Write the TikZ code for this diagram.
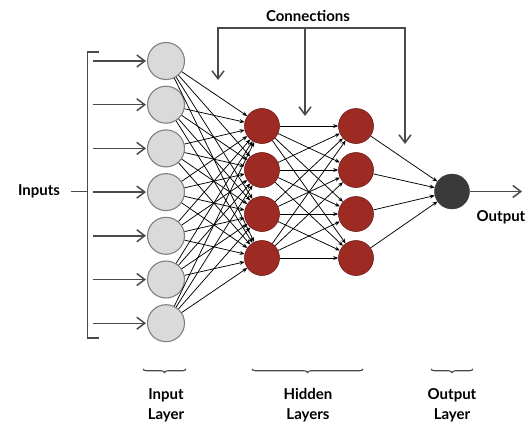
\documentclass[tikz,border=0pt]{standalone}
\usepackage{fontspec}
\setmainfont{Lato}
\usetikzlibrary{positioning, arrows.meta, decorations.pathreplacing}
\definecolor{nngray}{HTML}{DADADA}
\definecolor{nnrim}{HTML}{808080}
\definecolor{nnred}{HTML}{9E2A24}
\definecolor{nnredrim}{HTML}{6E1812}
\definecolor{nndark}{HTML}{3A3A3A}
\definecolor{nnline}{HTML}{4A4A4A}

\begin{document}
\begin{tikzpicture}[
  x=1pt, y=1pt,
  font=\fontsize{15}{20}\selectfont\bfseries,
  >={Straight Barb[length=8pt,width=12pt,line width=1.5pt]},
  inp/.style={circle, draw=nnrim, fill=nngray, line width=1.1pt,
    minimum size=37pt, inner sep=0pt},
  hid/.style={circle, draw=nnredrim, fill=nnred, line width=0.6pt,
    minimum size=35pt, inner sep=0pt},
  outn/.style={circle, draw=nndark, fill=nndark, minimum size=35pt, inner sep=0pt},
  wire/.style={-{Stealth[length=5pt,width=4pt]}, draw=black, line width=0.75pt},
  feed/.style={->, draw=nnline, line width=1.4pt},
  rail/.style={draw=nnline, line width=1.3pt},
  grp/.style={decorate, decoration={brace, mirror, amplitude=3.5pt},
    draw=nnline, line width=1.1pt},
]
\useasboundingbox (0,0) rectangle (532,-423);

% Input layer, fed from the left
\foreach \i in {1,...,7} {
  \node[inp] (in-\i) at (166, {-17.3-43.7*\i}) {};
  \coordinate (src-\i) at (93, {-17.3-43.7*\i});
  \coordinate (dst-\i) at (146, {-17.3-43.7*\i});
}
\foreach \i in {1,...,7}
  \draw[feed] (src-\i) -- (dst-\i);

% Hidden layers
\foreach \j in {1,...,4} {
  \node[hid] (ha-\j) at (262, {-82-44*\j}) {};
  \node[hid] (hb-\j) at (356, {-82-44*\j}) {};
}

% Output neuron
\node[outn] (out) at (452,-191.5) {};

% Fully connected weights
\foreach \i in {1,...,7}
  \foreach \j in {1,...,4}
    \draw[wire] (in-\i) -- (ha-\j);
\foreach \i in {1,...,4}
  \foreach \j in {1,...,4}
    \draw[wire] (ha-\i) -- (hb-\j);
\foreach \i in {1,...,4}
  \draw[wire] (hb-\i) -- (out);

% Inputs bracket
\node[outer sep=8pt] (inputs) at (39,-191.5) {Inputs};
\coordinate (brk-top) at (99,-52);
\coordinate (brk-bot) at (99,-338);
\coordinate (brk-mid) at (87.5,-191.5);
\draw[rail] (brk-top) -- ++(-11.5,0) |- (brk-bot);
\draw[rail] (inputs) -- (brk-mid);

% Output arrow
\coordinate (sink) at (522,-191.5);
\draw[feed] (out) -- (sink);
\node (outlab) at (501,-217) {Output};

% Connections feeding the layers
\node (conn) at (308,-16) {Connections};
\coordinate (c-left)  at (218,-80);
\coordinate (c-mid)   at (305,-116);
\coordinate (c-right) at (405,-144);
\coordinate (bar-r)   at (405,-28);
\draw[rail, <->] (c-left) |- (bar-r) -- (c-right);
\draw[feed] (c-mid |- bar-r) -- (c-mid);

% Layer braces
\coordinate (ib-l) at (143,-369);  \coordinate (ib-r) at (186,-369);
\coordinate (hb-l) at (252,-369);  \coordinate (hb-r) at (363,-369);
\coordinate (ob-l) at (431,-369);  \coordinate (ob-r) at (473,-369);
\draw[grp] (ib-l) -- (ib-r);
\draw[grp] (hb-l) -- (hb-r);
\draw[grp] (ob-l) -- (ob-r);
\node[align=center] (inlab)  at (166,-405) {Input\\Layer};
\node[align=center] (hidlab) at (308,-405) {Hidden\\Layers};
\node[align=center] (outlay) at (452,-405) {Output\\Layer};
\end{tikzpicture}
\end{document}
